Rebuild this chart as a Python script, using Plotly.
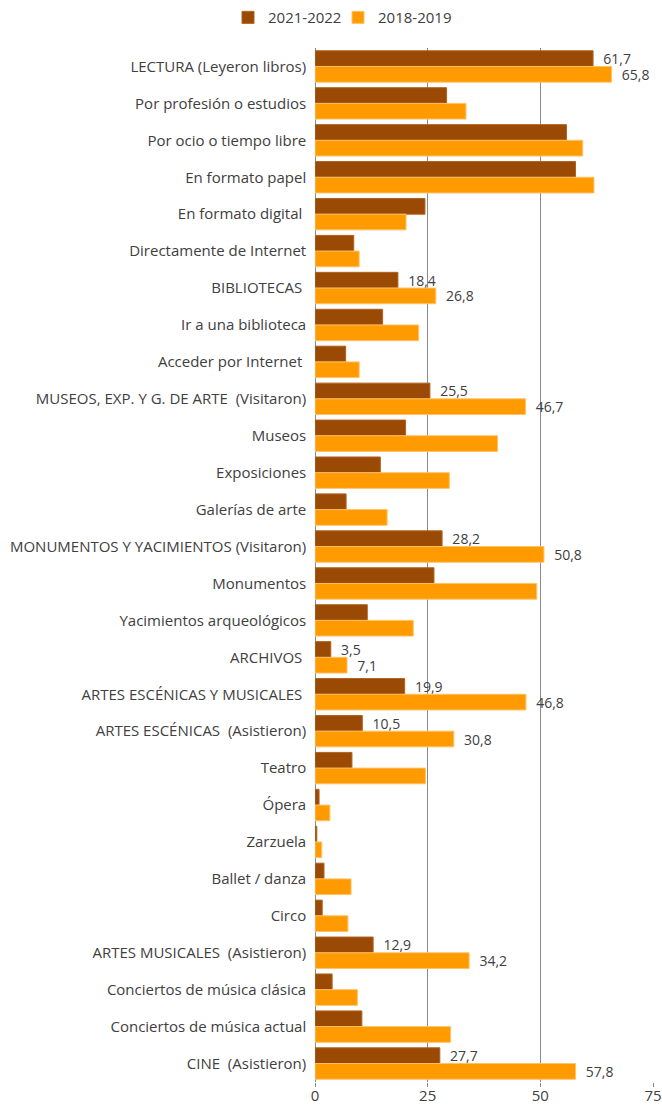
import plotly.graph_objects as go

categories = [
    "LECTURA (Leyeron libros)", "Por profesión o estudios", "Por ocio o tiempo libre",
    "En formato papel", "En formato digital\u00a0", "Directamente de Internet",
    "BIBLIOTECAS\u00a0", "Ir a una biblioteca", "Acceder por Internet\u00a0",
    "MUSEOS, EXP. Y G. DE ARTE  (Visitaron)", "Museos", "Exposiciones", "Galerías de arte",
    "MONUMENTOS Y YACIMIENTOS (Visitaron)", "Monumentos", "Yacimientos arqueológicos",
    "ARCHIVOS\u00a0", "ARTES ESCÉNICAS Y MUSICALES\u00a0", "ARTES ESCÉNICAS  (Asistieron)",
    "Teatro", "Ópera", "Zarzuela", "Ballet / danza", "Circo",
    "ARTES MUSICALES  (Asistieron)", "Conciertos de música clásica",
    "Conciertos de música actual", "CINE  (Asistieron)",
]
v2021 = [61.7, 29.2, 55.8, 57.8, 24.4, 8.6, 18.4, 15.0, 6.8, 25.5, 20.1, 14.5, 6.9,
         28.2, 26.4, 11.6, 3.5, 19.9, 10.5, 8.2, 0.9, 0.4, 2.0, 1.6, 12.9, 3.8, 10.4, 27.7]
v2018 = [65.8, 33.5, 59.4, 61.9, 20.2, 9.8, 26.8, 23.0, 9.8, 46.7, 40.5, 29.8, 16.0,
         50.8, 49.2, 21.8, 7.1, 46.8, 30.8, 24.5, 3.3, 1.5, 8.0, 7.3, 34.2, 9.4, 30.1, 57.8]
labeled = [True, False, False, False, False, False, True, False, False, True, False, False, False,
           True, False, False, True, True, True, False, False, False, False, False,
           True, False, False, True]
x_ticks = [0, 25, 50, 75]

def fmt(vals):
    return [("  " + f"{v:.1f}".replace(".", ",")) if lab else "" for v, lab in zip(vals, labeled)]

font_family = "'Open Sans', Lato, sans-serif"
text_color = "#404040"
grid_color = "#8A8A8A"

fig = go.Figure()
fig.add_trace(go.Bar(
    y=categories, x=v2021, name="2021-2022", orientation="h", legend="legend",
    marker=dict(color="#9A4A05", line=dict(color="#B0621E", width=1)),
    text=fmt(v2021), textposition="outside", cliponaxis=False,
    textfont=dict(size=14, color=text_color, family=font_family),
))
fig.add_trace(go.Bar(
    y=categories, x=v2018, name="2018-2019", orientation="h", legend="legend2",
    marker=dict(color="#FF9A00", line=dict(color="#FFC266", width=1)),
    text=fmt(v2018), textposition="outside", cliponaxis=False,
    textfont=dict(size=14, color=text_color, family=font_family),
))

legend_style = dict(orientation="h", xref="container", xanchor="left",
                    yref="container", y=0.999, yanchor="top",
                    bgcolor="rgba(0,0,0,0)",
                    font=dict(size=15, color=text_color), itemwidth=30)

fig.update_layout(
    width=662, height=1106,
    margin=dict(l=315, r=9, t=48, b=24, autoexpand=False),
    barmode="group", bargap=0.15, bargroupgap=0,
    plot_bgcolor="white", paper_bgcolor="white",
    font=dict(family=font_family, size=15, color=text_color),
    legend=dict(x=0.3444, **legend_style),
    legend2=dict(x=0.5106, **legend_style),
    showlegend=True,
)
fig.update_xaxes(range=[0, 75], tickvals=x_ticks, showgrid=True, gridcolor=grid_color, gridwidth=1,
                 zeroline=True, zerolinecolor=grid_color, zerolinewidth=1, showline=False,
                 ticks="outside", ticklen=4, tickcolor=grid_color,
                 tickfont=dict(size=15, color=text_color), automargin=False)
try:
    fig.update_xaxes(ticklabelstandoff=-4)
except Exception:
    fig.update_xaxes(ticks="")
fig.update_yaxes(autorange="reversed", ticks="", showline=False, ticksuffix="  ",
                 tickfont=dict(size=15, color=text_color), automargin=False)
fig.update_traces(constraintext="none")

fig.write_html(
    "out.html",
    config={"displayModeBar": False},
    post_script="document.body.style.margin='0';document.body.style.overflow='hidden';",
)
